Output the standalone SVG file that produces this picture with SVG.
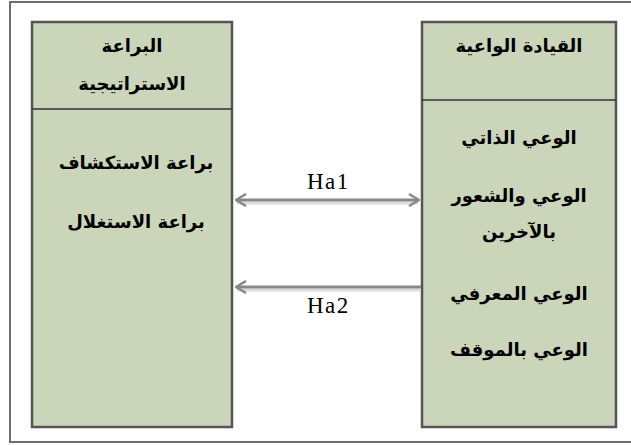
<svg xmlns="http://www.w3.org/2000/svg" width="631" height="445" viewBox="0 0 631 445">
<defs>
<style>
.frame{fill:#fff;stroke:#6e6e6e;stroke-width:2}
.box{fill:#cbd5b9;stroke:#555;stroke-width:2.5}
.div{stroke:#333;stroke-width:1.5}
.ar{font-family:"DejaVu Sans",sans-serif;font-weight:bold;font-size:18px;fill:#000;text-anchor:middle}
.lbl{font-family:"Liberation Serif",serif;font-size:23px;letter-spacing:1.5px;fill:#000}
.conn{stroke:#888;stroke-width:3;fill:none}
.shadow{stroke:#ddd;stroke-width:3;fill:none}
</style>
<marker id="ah" viewBox="0 0 12 14" refX="11" refY="7" markerWidth="12" markerHeight="14" markerUnits="userSpaceOnUse" orient="auto-start-reverse">
<path d="M1,1 L11,7 L1,13" fill="none" stroke="#888" stroke-width="2.5"/>
</marker>
</defs>
<rect class="frame" x="10" y="2" width="630" height="440"/>
<g id="left-node">
<rect class="box" x="32" y="22" width="200" height="405"/>
<line class="div" x1="32" y1="109" x2="232" y2="109"/>
<text class="ar" x="132" y="52">البراعة</text>
<text class="ar" x="132" y="90">الاستراتيجية</text>
<text class="ar" x="136" y="169">براعة الاستكشاف</text>
<text class="ar" x="136" y="228">براعة الاستغلال</text>
</g>
<g id="right-node">
<rect class="box" x="422" y="22" width="194" height="405"/>
<line class="div" x1="422" y1="100" x2="616" y2="100"/>
<text class="ar" x="519" y="52">القيادة الواعية</text>
<text class="ar" x="519" y="144">الوعي الذاتي</text>
<text class="ar" x="519" y="202">الوعي والشعور</text>
<text class="ar" x="519" y="238">بالآخرين</text>
<text class="ar" x="519" y="300">الوعي المعرفي</text>
<text class="ar" x="519" y="356">الوعي بالموقف</text>
</g>
<g id="connectors">
<line class="shadow" x1="237" y1="203" x2="418" y2="203"/>
<line class="conn" x1="236" y1="200" x2="419" y2="200" marker-start="url(#ah)" marker-end="url(#ah)"/>
<line class="shadow" x1="237" y1="290" x2="421" y2="290"/>
<line class="conn" x1="421" y1="287" x2="236" y2="287" marker-end="url(#ah)"/>
<text class="lbl" x="307" y="189">Ha1</text>
<text class="lbl" x="307" y="313">Ha2</text>
</g>
</svg>
